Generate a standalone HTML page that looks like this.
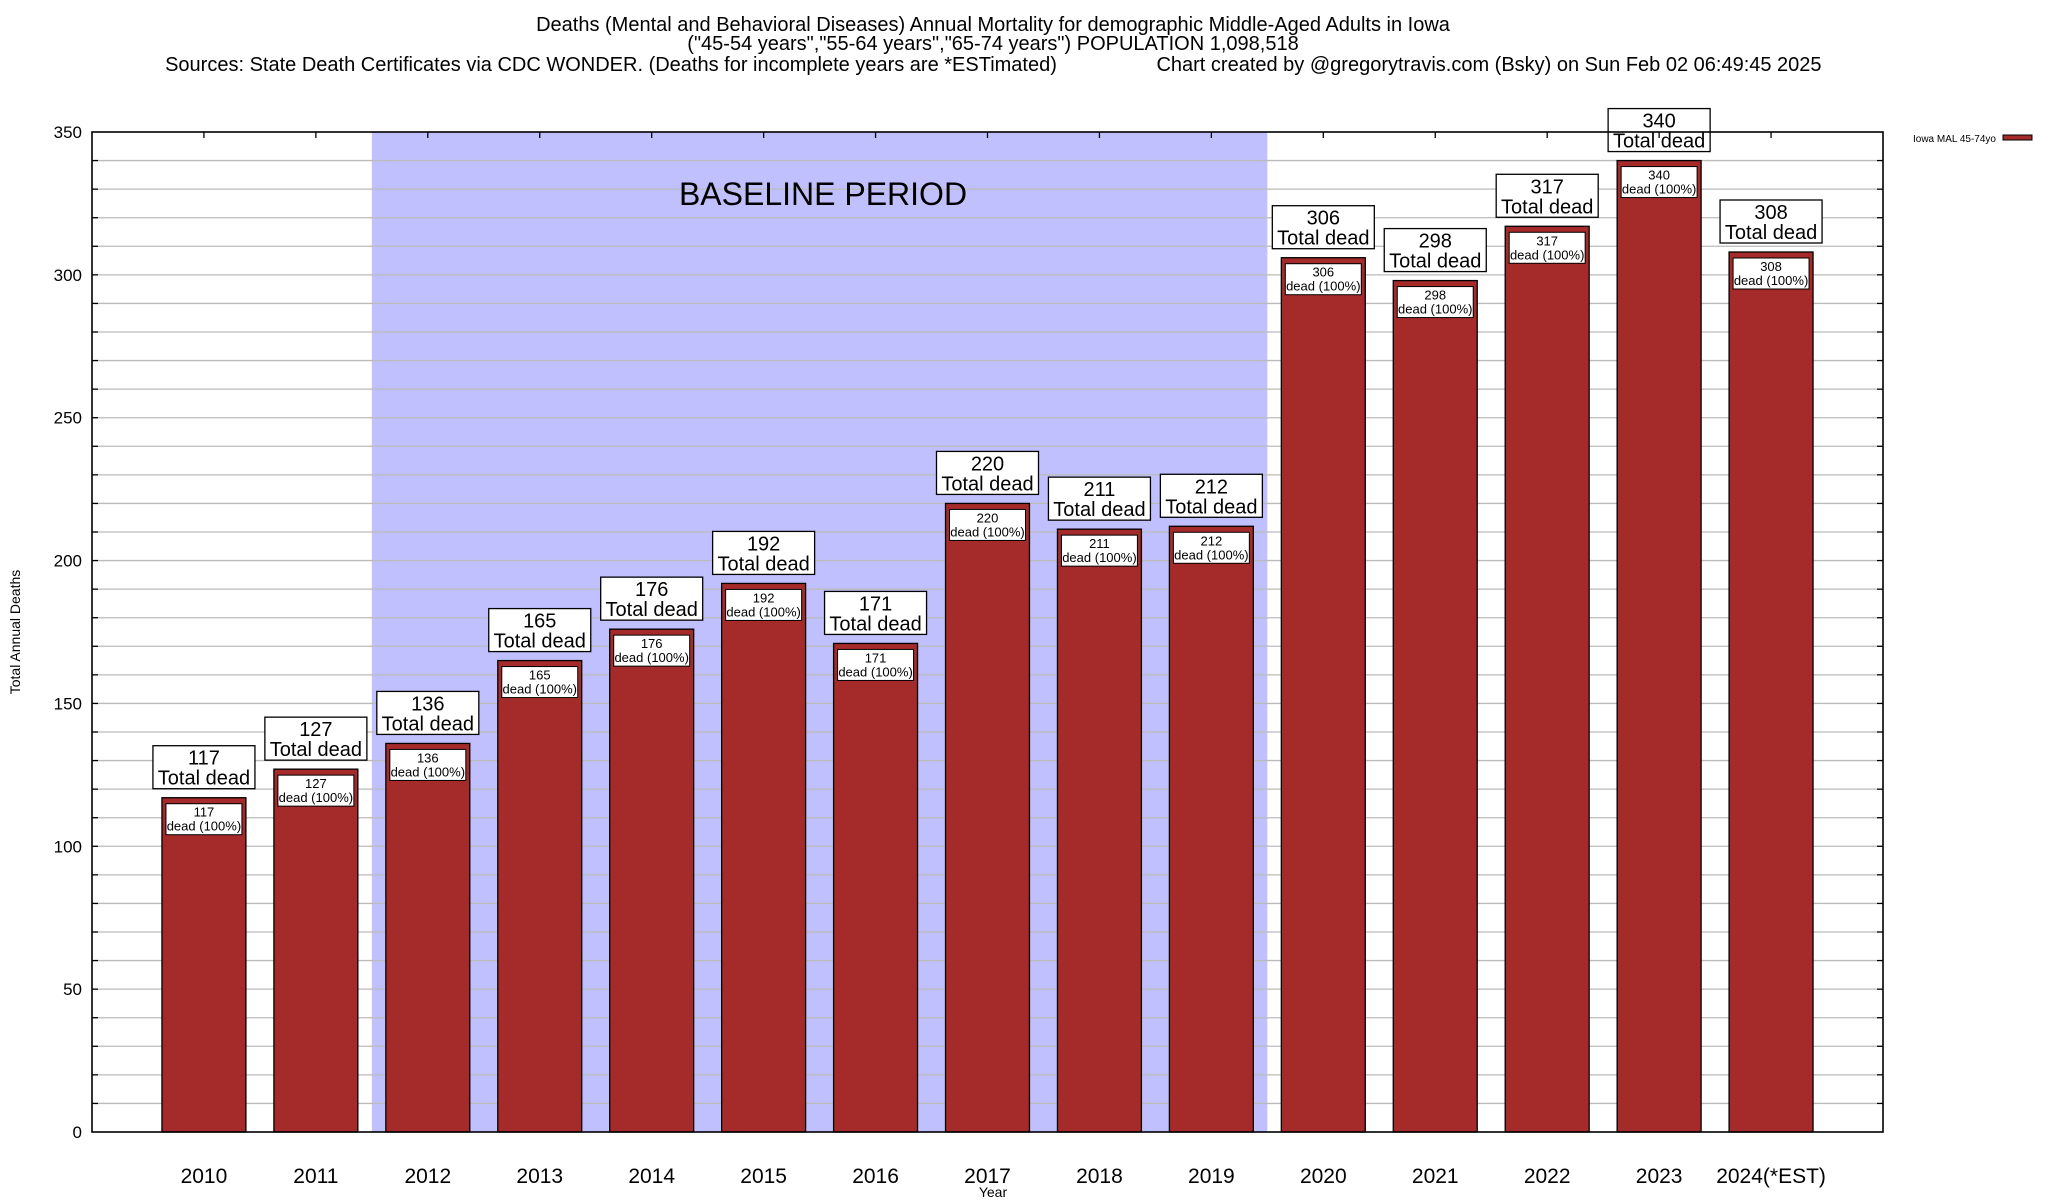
<!DOCTYPE html>
<html><head><meta charset="utf-8"><style>
body{margin:0;background:#fff}
svg{display:block;font-family:"Liberation Sans",Arial,sans-serif}
</style></head><body>
<svg id="chart" width="2048" height="1200" xmlns="http://www.w3.org/2000/svg">
<rect width="2048" height="1200" fill="#fff"/>
<g font-size="20" text-anchor="middle" fill="#000">
<text x="993" y="31">Deaths (Mental and Behavioral Diseases) Annual Mortality for demographic Middle-Aged Adults in Iowa</text>
<text x="993" y="50">("45-54 years","55-64 years","65-74 years") POPULATION 1,098,518</text>
<text x="611" y="71">Sources: State Death Certificates via CDC WONDER. (Deaths for incomplete years are *ESTimated)</text>
<text x="1489" y="71">Chart created by @gregorytravis.com (Bsky) on Sun Feb 02 06:49:45 2025</text>
</g>
<g id="layer"></g>
</svg>
<script>
const categories=["2010","2011","2012","2013","2014","2015","2016","2017","2018","2019","2020","2021","2022","2023","2024(*EST)"];
const deaths=[117,127,136,165,176,192,171,220,211,212,306,298,317,340,308];
const yTicks=[0,50,100,150,200,250,300,350];
const baselineRange=[2,9];
const NS="http://www.w3.org/2000/svg";
const L=92,R=1883,T=132,B=1132,YMAX=350;
const pitch=(R-L)/(categories.length+1);
const xc=i=>L+pitch*(i+1);
const y=v=>B-(B-T)*v/YMAX;
const layer=document.getElementById('layer');
function mk(tag,attrs,parent){const e=document.createElementNS(NS,tag);for(const k in attrs)e.setAttribute(k,attrs[k]);(parent||layer).appendChild(e);return e;}
const bl=mk('rect',{x:xc(baselineRange[0])-pitch/2,y:T,width:pitch*(baselineRange[1]-baselineRange[0]+1),height:B-T,fill:'#c0c0ff'});


for(let v=10;v<YMAX;v+=10){
 const g=mk('line',{x1:L,x2:R,y1:y(v),y2:y(v),stroke:'#bbb','stroke-width':1.3});
 
 
 mk('line',{x1:L,x2:L+6,y1:y(v),y2:y(v),stroke:'#000','stroke-width':1.3});
 mk('line',{x1:R-6,x2:R,y1:y(v),y2:y(v),stroke:'#000','stroke-width':1.3});
}
const bt=mk('text',{x:823,y:205,'font-size':32,'text-anchor':'middle'});
bt.textContent='BASELINE PERIOD';


yTicks.forEach(v=>{
 const t=mk('text',{x:82,y:y(v)+6,'font-size':17,'text-anchor':'end'});
 t.textContent=v;
 
 
});
const bw=pitch*0.75;
categories.forEach((c,i)=>{
 const v=deaths[i],x=xc(i),top=y(v);
 const r=mk('rect',{x:x-bw/2,y:top,width:bw,height:B-top,fill:'#a52a2a',stroke:'#000','stroke-width':1.3});
 
 
 const ib=mk('rect',{x:x-bw/2+4,y:top+6,width:bw-8,height:31,fill:'#fff',stroke:'#000','stroke-width':1});
 
 
 const t1=mk('text',{x:x,y:top+19,'font-size':13,'text-anchor':'middle'});t1.textContent=v;
 
 
 const t2=mk('text',{x:x,y:top+33,'font-size':13,'text-anchor':'middle'});t2.textContent='dead (100%)';
 
 
 const ob=mk('rect',{x:x-51,y:top-52,width:102,height:43,fill:'#fff',stroke:'#000','stroke-width':1.3});
 
 
 const o1=mk('text',{x:x,y:top-33,'font-size':20,'text-anchor':'middle'});o1.textContent=v;
 
 
 const o2=mk('text',{x:x,y:top-13,'font-size':20,'text-anchor':'middle'});o2.textContent='Total dead';
 
 
 const xl=mk('text',{x:x,y:1183,'font-size':21,'text-anchor':'middle'});xl.textContent=c;
 
 
 mk('line',{x1:x,x2:x,y1:T,y2:T+6,stroke:'#000','stroke-width':1.3});
});
const fr=mk('rect',{x:L,y:T,width:R-L,height:B-T,fill:'none',stroke:'#000','stroke-width':1.6});


const yt=mk('text',{x:0,y:0,'font-size':14,'text-anchor':'middle',transform:'translate(20,632) rotate(-90)'});
yt.textContent='Total Annual Deaths';


const xt=mk('text',{x:993,y:1197,'font-size':14,'text-anchor':'middle'});
xt.textContent='Year';


const lt=mk('text',{x:1996,y:142,'font-size':10,'text-anchor':'end'});
lt.textContent='Iowa MAL 45-74yo';


const ls=mk('rect',{x:2003,y:135,width:29,height:5,fill:'#a52a2a',stroke:'#000','stroke-width':1});


</script>
</body></html>
